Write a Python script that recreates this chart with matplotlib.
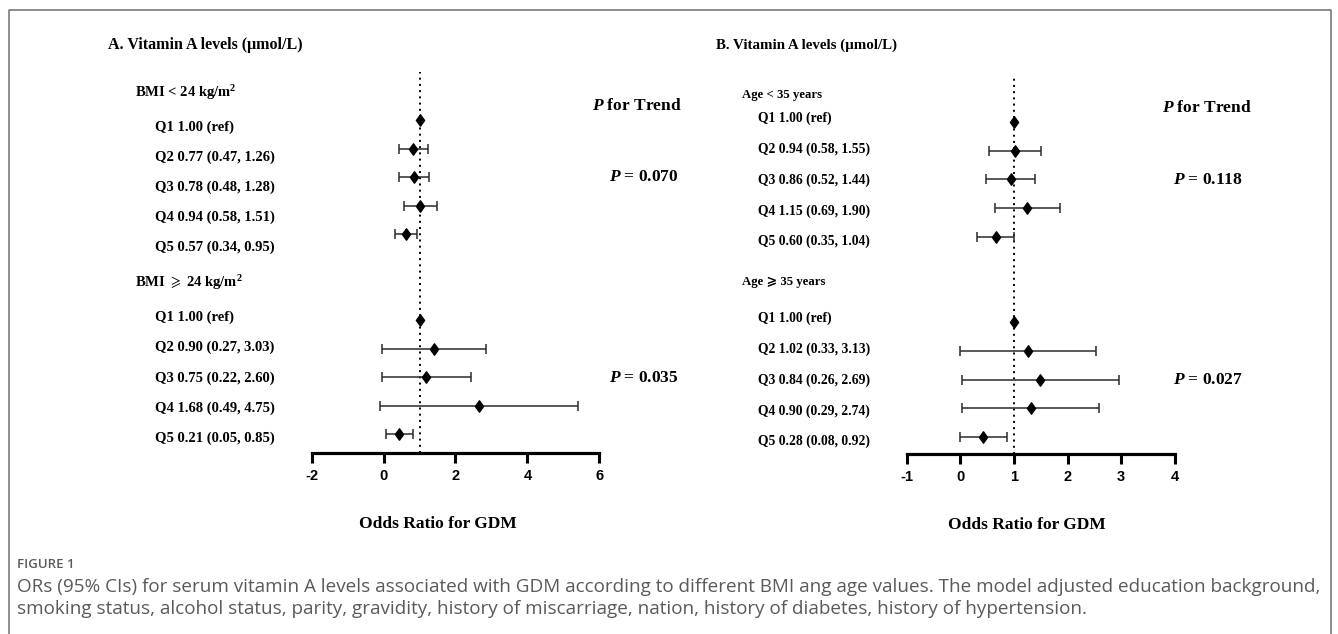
import numpy as np
import matplotlib
matplotlib.use("Agg")
import matplotlib.pyplot as plt
from matplotlib import font_manager
from matplotlib.path import Path
from matplotlib.lines import Line2D

# ---------------- data ----------------
title_a = "A. Vitamin A levels (μmol/L)"
title_b = "B. Vitamin A levels (μmol/L)"
groups_a = ["BMI < 24 kg/m$^\\mathbf{2}$", "BMI $\\geqslant$ 24 kg/m$^\\mathbf{2}$"]
groups_b = ["Age < 35 years", "Age ⩾ 35 years"]
labels_a1 = ["Q1 1.00 (ref)", "Q2 0.77 (0.47, 1.26)", "Q3 0.78 (0.48, 1.28)",
             "Q4 0.94 (0.58, 1.51)", "Q5 0.57 (0.34, 0.95)"]
labels_a2 = ["Q1 1.00 (ref)", "Q2 0.90 (0.27, 3.03)", "Q3 0.75 (0.22, 2.60)",
             "Q4 1.68 (0.49, 4.75)", "Q5 0.21 (0.05, 0.85)"]
labels_b1 = ["Q1 1.00 (ref)", "Q2 0.94 (0.58, 1.55)", "Q3 0.86 (0.52, 1.44)",
             "Q4 1.15 (0.69, 1.90)", "Q5 0.60 (0.35, 1.04)"]
labels_b2 = ["Q1 1.00 (ref)", "Q2 1.02 (0.33, 3.13)", "Q3 0.84 (0.26, 2.69)",
             "Q4 0.90 (0.29, 2.74)", "Q5 0.28 (0.08, 0.92)"]

# points and whiskers as drawn in the figure
or_a1 = [1.00, 0.83, 0.85, 1.01, 0.62]
lo_a1 = [None, 0.44, 0.44, 0.56, 0.32]
hi_a1 = [None, 1.24, 1.25, 1.48, 0.93]
or_a2 = [1.00, 1.41, 1.19, 2.65, 0.42]
lo_a2 = [None, -0.04, -0.05, -0.11, 0.06]
hi_a2 = [None, 2.85, 2.44, 5.40, 0.81]
or_b1 = [1.00, 1.02, 0.94, 1.25, 0.66]
lo_b1 = [None, 0.53, 0.48, 0.64, 0.31]
hi_b1 = [None, 1.51, 1.40, 1.86, 1.01]
or_b2 = [1.00, 1.26, 1.49, 1.31, 0.42]
lo_b2 = [None, -0.01, 0.03, 0.03, 0.00]
hi_b2 = [None, 2.54, 2.96, 2.59, 0.87]

p_trend_a = ["0.070", "0.035"]
p_trend_b = ["0.118", "0.027"]
xticks_a = [-2, 0, 2, 4, 6]
xticks_b = [-1, 0, 1, 2, 3, 4]
ref_value = 1
xlabel = "Odds Ratio for GDM"
p_head = "$P$ for Trend"
caption_head = "FIGURE 1"
caption_lines = [
    "ORs (95% CIs) for serum vitamin A levels associated with GDM according to different BMI ang age values. The model adjusted education background,",
    "smoking status, alcohol status, parity, gravidity, history of miscarriage, nation, history of diabetes, history of hypertension.",
]

# ---------------- style ----------------
W, H = 1338, 634
avail = {f.name for f in font_manager.fontManager.ttflist}
SERIF = ["Liberation Serif", "DejaVu Sans"]
TICKF = "Liberation Sans Narrow" if "Liberation Sans Narrow" in avail else "Liberation Sans"
CAPF = "Open Sans" if "Open Sans" in avail else "DejaVu Sans"

plt.rcParams["mathtext.fontset"] = "custom"
plt.rcParams["mathtext.it"] = "Liberation Serif:italic:bold"
plt.rcParams["mathtext.rm"] = "Liberation Serif:bold"
plt.rcParams["mathtext.bf"] = "Liberation Serif:bold"
plt.rcParams["mathtext.fallback"] = "stix"

fig = plt.figure(figsize=(W / 100, H / 100), dpi=100)
fig.patch.set_facecolor("white")


def fx(px):
    return px / W


def fy(py):
    return 1 - py / H


diamond = Path([(0, 1), (0.72, 0), (0, -1), (-0.72, 0), (0, 1)],
               [Path.MOVETO, Path.LINETO, Path.LINETO, Path.LINETO, Path.CLOSEPOLY])


def serif_text(x, y, s, size, ha="left"):
    fig.text(fx(x), fy(y), s, fontsize=size, fontweight="bold", family=SERIF,
             ha=ha, va="center", color="black")


def panel(xticks, ors, los, his, x0, x1, row0, step, axis_y, top_y):
    ax = fig.add_axes([fx(x0), fy(axis_y), (x1 - x0) / W, (axis_y - top_y) / H])
    ax.set_facecolor("none")
    ax.set_xlim(xticks[0], xticks[-1])
    ax.set_ylim((axis_y - row0) / step, (top_y - row0) / step)
    rows = [0, 1, 2, 3, 4, 7, 8, 9, 10, 11]
    o = np.array(ors, float)
    r = np.array(rows, float)
    has = np.array([l is not None for l in los])
    lo = np.array([l if l is not None else np.nan for l in los], float)
    hi = np.array([h if h is not None else np.nan for h in his], float)
    ax.errorbar(o[has], r[has], xerr=[o[has] - lo[has], hi[has] - o[has]],
                fmt="none", ecolor="#2b2b2b", elinewidth=1.1, capsize=3.7,
                capthick=1.1, zorder=2)
    ax.axvline(ref_value, color="black", lw=1.4, linestyle=(0, (1, 2.2)), zorder=1)
    ax.plot(o, r, linestyle="none", marker=diamond, ms=8.2, color="black", zorder=3)
    for s in ["top", "left", "right"]:
        ax.spines[s].set_visible(False)
    ax.spines["bottom"].set_linewidth(2.3)
    ax.set_yticks([])
    ax.set_xticks(xticks)
    ax.set_xticklabels([str(t) for t in xticks])
    ax.tick_params(axis="x", direction="out", length=7.5, width=2.2, pad=4,
                   labelsize=10.5)
    for lab in ax.get_xticklabels():
        lab.set_fontfamily(TICKF)
        lab.set_fontweight("bold")
    return ax


# ---------------- panel A ----------------
panel(xticks_a, or_a1 + or_a2, lo_a1 + lo_a2, hi_a1 + hi_a2,
      311.7, 599.3, 120.0, 28.57, 453.3, 72)
serif_text(108, 45, title_a, 11.5)
serif_text(135, 93, groups_a[0], 10.5)
serif_text(135, 283, groups_a[1], 10.5)
for i, s in enumerate(labels_a1):
    serif_text(155, 127.7 + i * 29.9, s, 10.5)
for i, s in enumerate(labels_a2):
    serif_text(155, 317.0 + i * 30.4, s, 10.5)
serif_text(592, 106, p_head, 12.5)
serif_text(609, 177, "$P$ = " + p_trend_a[0], 12.5)
serif_text(609, 378, "$P$ = " + p_trend_a[1], 12.5)
serif_text(437.7, 524, xlabel, 12.5, ha="center")

# ---------------- panel B ----------------
panel(xticks_b, or_b1 + or_b2, lo_b1 + lo_b2, hi_b1 + hi_b2,
      906.7, 1174.7, 122.3, 28.58, 454.0, 75)
serif_text(716, 45, title_b, 10.8)
serif_text(742.3, 95, groups_b[0], 9.2)
serif_text(742.3, 282, groups_b[1], 9.2)
for i, s in enumerate(labels_b1):
    serif_text(757.7, 118.3 + i * 30.85, s, 9.8)
for i, s in enumerate(labels_b2):
    serif_text(757.7, 318.3 + i * 30.85, s, 9.8)
serif_text(1162, 108, p_head, 12.5)
serif_text(1173, 180, "$P$ = " + p_trend_b[0], 12.5)
serif_text(1173, 380, "$P$ = " + p_trend_b[1], 12.5)
serif_text(1026.7, 525, xlabel, 12.5, ha="center")

# ---------------- frame & caption ----------------
fig.add_artist(Line2D([fx(9), fx(9), fx(1331), fx(1331)],
                      [fy(640), fy(10), fy(10), fy(640)],
                      color="#7a7a7a", lw=1.2))
fig.text(fx(17), fy(565), caption_head, fontsize=9.5, color="#5a5a5a",
         family=CAPF, fontweight="semibold", va="center", ha="left")
cap_texts = []
for i, s in enumerate(caption_lines):
    cap_texts.append(fig.text(fx(17), fy(587 + i * 21.5), s, fontsize=12,
                              color="#5a5a5a", family=CAPF, va="center", ha="left"))
fig.canvas.draw()
bb = cap_texts[0].get_window_extent()
size = 12 * (1314 - 17) / bb.width
for t in cap_texts:
    t.set_fontsize(size)

fig.savefig("out.png", dpi=100, facecolor="white")
